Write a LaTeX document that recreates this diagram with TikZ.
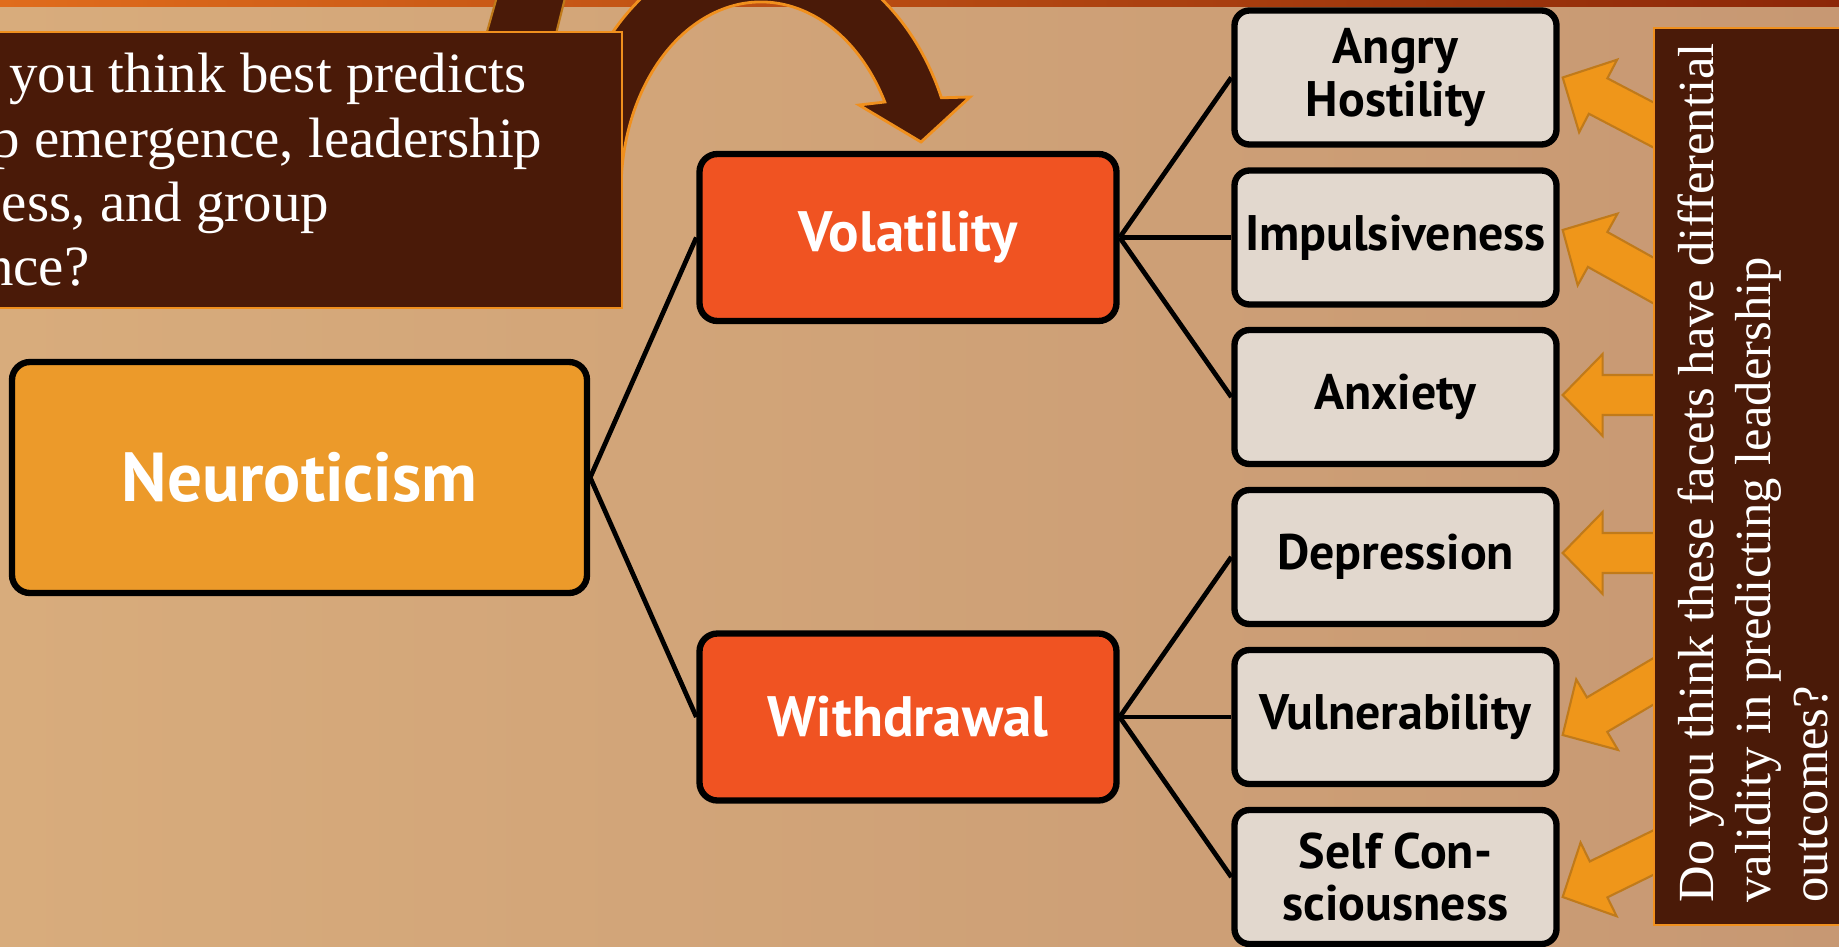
\documentclass[tikz,border=0pt]{standalone}
\usepackage{fontspec}
\setmainfont{Liberation Serif}
\newfontfamily\boxfont{PT Sans}

\definecolor{bgleft}{HTML}{D8AC7C}
\definecolor{bgright}{HTML}{C79873}
\definecolor{bandleft}{HTML}{E06C1C}
\definecolor{bandright}{HTML}{8C2708}
\definecolor{darkbrown}{HTML}{4A1A08}
\definecolor{rimorange}{HTML}{F0901E}
\definecolor{traitorange}{HTML}{EC9A2A}
\definecolor{aspectred}{HTML}{F05322}
\definecolor{facetgrey}{HTML}{E2D8CE}
\definecolor{arroworange}{HTML}{EF961A}
\definecolor{arrowrim}{HTML}{C07A1A}

\begin{document}
\begin{tikzpicture}[
    box/.style={draw=black,line width=1.8pt,rounded corners=0.18cm,align=center,inner sep=1pt},
    trait/.style={box,fill=traitorange,text=white,minimum width=5.75cm,minimum height=2.31cm,
        font={\boxfont\bfseries\fontsize{19.7}{22}\selectfont}},
    aspect/.style={box,fill=aspectred,text=white,minimum width=4.17cm,minimum height=1.67cm,
        font={\boxfont\bfseries\fontsize{16.2}{19}\selectfont}},
    facet/.style={box,fill=facetgrey,text=black,minimum width=3.22cm,minimum height=1.34cm,
        rounded corners=0.15cm,font={\boxfont\bfseries\fontsize{14.2}{15}\selectfont}},
    link/.style={line width=1.35pt},
    blockarrow/.style={fill=arroworange,draw=arrowrim,line width=0.6pt,line join=miter},
    darkpanel/.style={fill=darkbrown,draw=rimorange,line width=0.8pt},
    asktext/.style={text=white,inner sep=0pt,anchor=base east,font={\fontsize{16.2}{19}\selectfont}},
    sidetext/.style={text=white,inner sep=0pt,rotate=90,anchor=base west,font={\fontsize{14.4}{16}\selectfont}}
]
    \useasboundingbox (0,0) rectangle (18.39,9.46);
    \clip (0,0) rectangle (18.39,9.46);

    % background and top band
    \shade[left color=bgleft,right color=bgright] (0,0) rectangle (18.39,9.46);
    \shade[left color=bandleft,right color=bandright] (0,9.39) rectangle (18.39,9.46);

    % curved arrow behind the question box
    \draw[fill=darkbrown,draw=arrowrim,line width=0.6pt] (5.00,9.6) -- (5.68,9.6) -- (5.53,9.0) -- (4.83,9.0) -- cycle;
    \draw[darkpanel] (5.66,7.56) arc[start angle=180,end angle=22.3,x radius=1.95cm,y radius=2.43cm]
        -- (9.70,8.49) -- (9.21,8.04) -- (8.59,8.41) -- (8.848,8.44)
        arc[start angle=27.9,end angle=180,x radius=1.40cm,y radius=1.88cm] -- cycle;

    % question box
    \draw[darkpanel] (-0.2,6.38) rectangle (6.22,9.14);
    \node[asktext] (ask1) at (5.27,8.53) {you think best predicts};
    \node[asktext] (ask2) at (5.43,7.89) {p emergence, leadership};
    \node[asktext] (ask3) at (3.30,7.25) {ess, and group};
    \node[asktext] (ask4) at (0.90,6.61) {nce?};

    % hierarchy
    \node[trait] (Neuro) at (2.995,4.685) {Neuroticism};
    \node[aspect] (Vol) at (9.08,7.085) {Volatility};
    \node[aspect] (Wd) at (9.08,2.29) {Withdrawal};

    \foreach \f/\y/\txt in {AH/8.685/{Angry\\Hostility},Imp/7.085/Impulsiveness,Anx/5.49/Anxiety,
        Dep/3.89/Depression,Vul/2.29/Vulnerability,SC/0.69/{Self Con-\\sciousness}}
        \node[facet] (\f) at (13.955,\y) {\txt};

    \draw[link] (Neuro.east) -- (Vol.west);
    \draw[link] (Neuro.east) -- (Wd.west);
    \foreach \f in {AH,Imp,Anx}
        \draw[link] (Vol.east) -- (\f.west);
    \foreach \f in {Dep,Vul,SC}
        \draw[link] (Wd.east) -- (\f.west);

    % arrows from the side question
    \foreach \f/\dy/\ang in {AH/0/-27.6,Imp/0.075/-29.1,Anx/0.02/0,Dep/0.04/0,Vul/-0.18/30.6,SC/-0.2/26.1}
        \draw[blockarrow,shift={(\f.east)},xshift=0.03cm,yshift=\dy cm,rotate=\ang]
            (0,0) -- (0.40,0.41) -- (0.40,0.20) -- (1.3,0.20) -- (1.3,-0.20) -- (0.40,-0.20) -- (0.40,-0.41) -- cycle;

    \draw[darkpanel] (16.54,0.21) rectangle (18.6,9.18);
    \node[sidetext] (side1) at (17.13,0.43) {Do you think these facets have differential};
    \node[sidetext] (side2) at (17.70,0.43) {validity in predicting leadership};
    \node[sidetext] (side3) at (18.27,0.43) {outcomes?};
\end{tikzpicture}
\end{document}
